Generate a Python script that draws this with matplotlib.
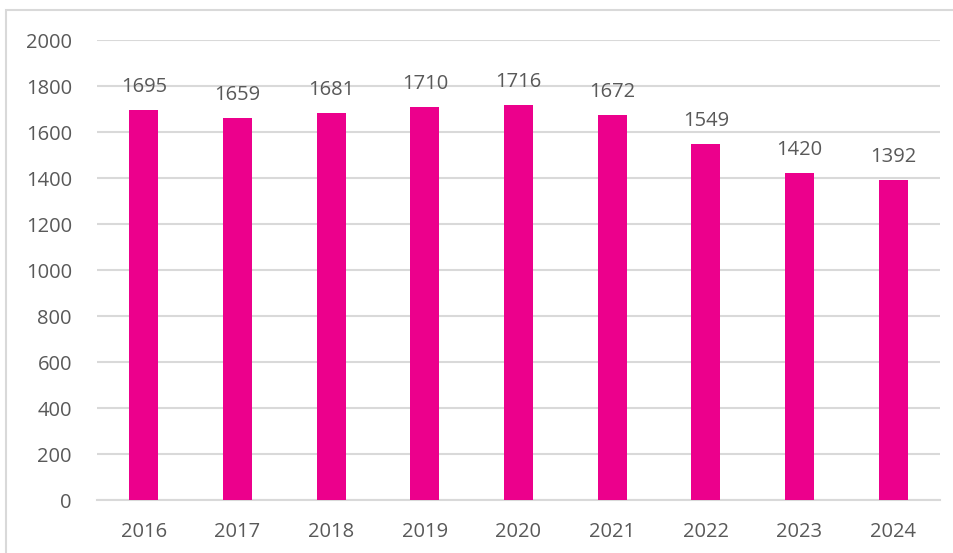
import matplotlib.pyplot as plt
from matplotlib.patches import Rectangle

years = ["2016", "2017", "2018", "2019", "2020", "2021", "2022", "2023", "2024"]
values = [1695, 1659, 1681, 1710, 1716, 1672, 1549, 1420, 1392]

plt.rcParams["font.family"] = ["Open Sans", "DejaVu Sans"]
grey = "#595959"

fig = plt.figure(figsize=(9.54, 5.53), dpi=100)
ax = fig.add_axes([97 / 954, 53 / 553, 843 / 954, 460 / 553])

x = range(len(years))
bars = ax.bar(x, values, width=0.31, color="#EC008C", zorder=3)
for xi, v in zip(x, values):
    ax.annotate(str(v), (xi, v), xytext=(0, 9.5), textcoords="offset points",
                ha="center", va="bottom", fontsize=14.5, color=grey)

ax.set_xlim(-0.5, len(years) - 0.5)
ax.set_ylim(0, 2000)
ax.set_yticks(range(0, 2001, 200))
ax.set_xticks(list(x))
ax.set_xticklabels(years)
ax.grid(axis="y", color="#d9d9d9", linewidth=1.5, zorder=0)
for s in ["top", "right", "left"]:
    ax.spines[s].set_visible(False)
ax.spines["bottom"].set_color("#d9d9d9")
ax.spines["bottom"].set_linewidth(1.5)
ax.tick_params(length=0, labelsize=14.5, colors=grey, pad=16)
ax.tick_params(axis="y", pad=18)

# chart frame, cut at the right and bottom edges of the screenshot
fig.patches.append(Rectangle((6 / 954, -0.05), 1.1, (553 - 10) / 553 + 0.05,
                             transform=fig.transFigure, fill=False,
                             edgecolor="#d9d9d9", linewidth=1.5))

fig.savefig("out.png", dpi=100)
